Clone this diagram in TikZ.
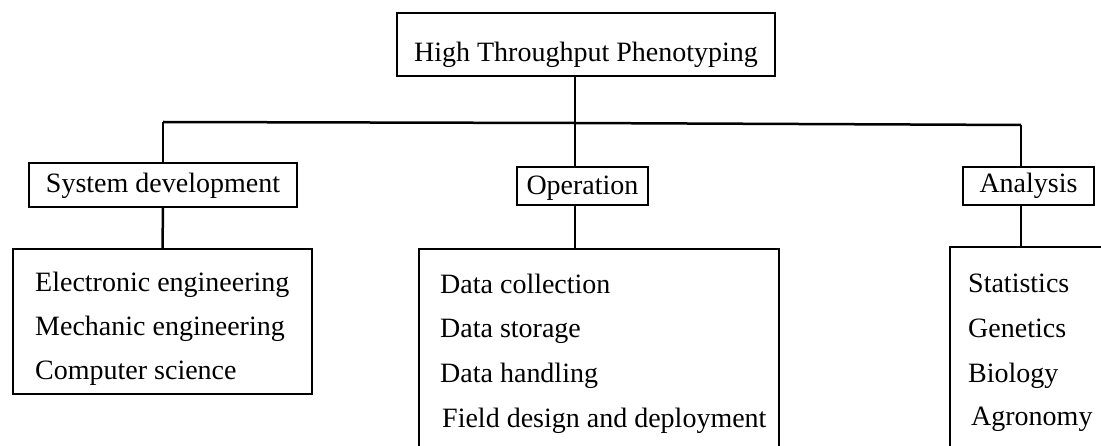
\documentclass[tikz,border=0pt]{standalone}
\usepackage{fontspec}
\setmainfont{Liberation Serif}
\tikzset{
  txt/.style={font=\fontsize{28}{34}\selectfont, inner sep=0pt},
  boxA/.style={draw=black, line width=1.4pt, txt, inner sep=0pt, align=center},
  item/.style={txt, anchor=base west},
  conn/.style={line width=2.5pt, line cap=butt},
}
\begin{document}
\begin{tikzpicture}[x=1pt,y=-1pt]
\useasboundingbox (0,0) rectangle (1101,446);
\clip (0,0) rectangle (1101,446);
% top
\node[boxA, minimum width=378pt, minimum height=63pt, text height=38pt, text depth=3pt] (htp) at (586,44.5) {High Throughput Phenotyping};
% mid boxes
\node[boxA, minimum width=268pt, minimum height=44pt, text height=20pt, text depth=4pt] (sd) at (163,185) {System development};
\node[boxA, minimum width=131pt, minimum height=38pt, text height=21pt, text depth=3pt] (op) at (582.5,186) {Operation};
\node[boxA, minimum width=131pt, minimum height=38pt, text height=19pt, text depth=5pt] (an) at (1028.5,186) {Analysis};
% bottom boxes
\node[draw=black, line width=1.4pt, minimum width=299pt, minimum height=145pt] (sdb) at (162.5,321.5) {};
\node[draw=black, line width=1.4pt, minimum width=360pt, minimum height=211pt] (opb) at (599,354.5) {};
\node[draw=black, line width=1.4pt, minimum width=160pt, minimum height=213pt] (anb) at (1030,353.5) {};
% items
\node[item] (e1) at (35,292) {Electronic engineering};
\node[item] (e2) at (35,336) {Mechanic engineering};
\node[item] (e3) at (35,380) {Computer science};
\node[item] (o1) at (440,294) {Data collection};
\node[item] (o2) at (440,338) {Data storage};
\node[item] (o3) at (440,383) {Data handling};
\node[item] (o4) at (442,428) {Field design and deployment};
\node[item] (a1) at (968,293) {Statistics};
\node[item] (a2) at (968,338) {Genetics};
\node[item] (a3) at (968,383) {Biology};
\node[item] (a4) at (971,425) {Agronomy};
% connectors
\coordinate (jt) at (575,123);
\coordinate (jl) at (163,122);
\coordinate (jr) at (1021,125);
\draw[conn] (jt |- htp.south) -- (jt);
\draw[conn] (jl) -- (jt) -- (jr);
\draw[conn] (jl) -- (sd.north);
\draw[conn] (sd.south) -- (sdb.north);
\draw[conn] (jt) -- (jt |- op.north);
\draw[conn] (jt |- op.south) -- (jt |- opb.north);
\draw[conn] (jr) -- (jr |- an.north);
\draw[conn] (jr |- an.south) -- (jr |- anb.north);
\end{tikzpicture}
\end{document}
